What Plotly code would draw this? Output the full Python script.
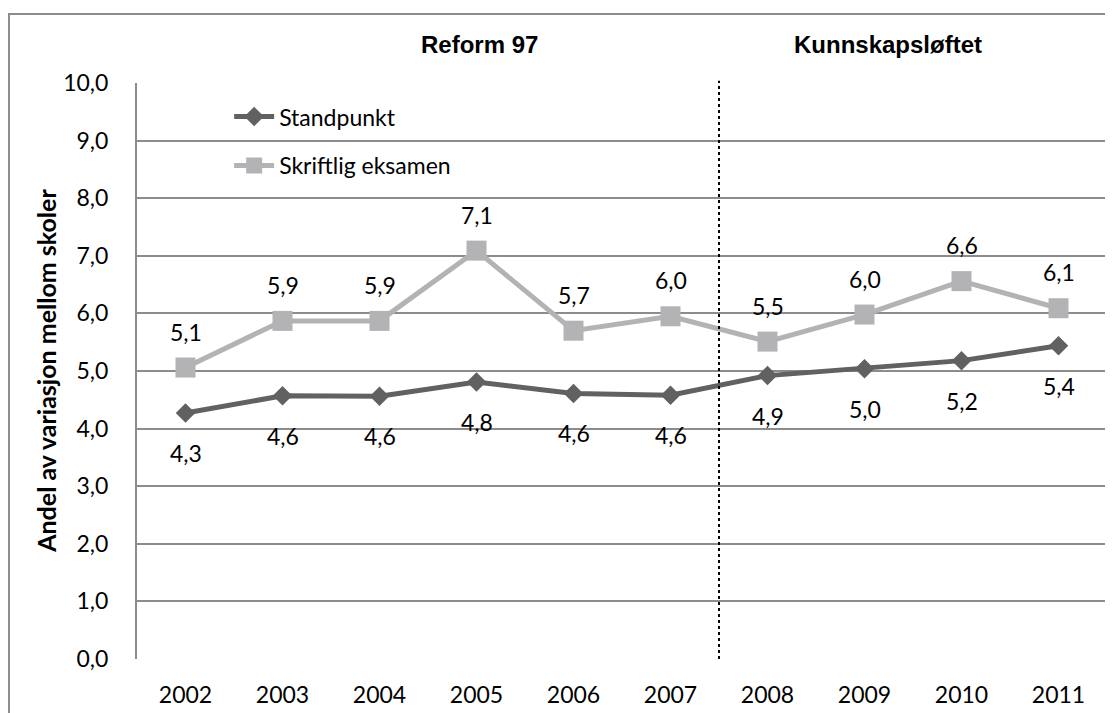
import plotly.graph_objects as go

years = ["2002", "2003", "2004", "2005", "2006", "2007", "2008", "2009", "2010", "2011"]
standpunkt = [4.27, 4.57, 4.56, 4.81, 4.61, 4.58, 4.92, 5.04, 5.18, 5.44]
skriftlig = [5.06, 5.87, 5.87, 7.09, 5.70, 5.95, 5.51, 5.98, 6.56, 6.09]
period_labels = ["Reform 97", "Kunnskapsløftet"]
y_title = "Andel av variasjon mellom skoler"

DARK = "#616161"
LIGHT = "#b3b3b5"
GRID = "#8c8c8c"
FONT = "Lato"

def fmt(v):
    return f"{v:.1f}".replace(".", ",")

fig = go.Figure()
fig.add_trace(go.Scatter(
    x=years, y=standpunkt, name="Standpunkt", mode="lines+markers",
    line=dict(color=DARK, width=5),
    marker=dict(symbol="diamond", size=15, color=DARK),
    legendgroup="a",
))
fig.add_trace(go.Scatter(
    x=years, y=skriftlig, name="Skriftlig eksamen", mode="lines+markers",
    line=dict(color=LIGHT, width=5),
    marker=dict(symbol="square", size=20, color=LIGHT),
    legendgroup="b",
))

annotations = []
for i, v in enumerate(skriftlig):
    annotations.append(dict(x=i, y=v, text=fmt(v), showarrow=False, yshift=36,
                            font=dict(family=FONT, size=23, color="black")))
for i, v in enumerate(standpunkt):
    annotations.append(dict(x=i, y=v, text=fmt(v), showarrow=False, yshift=-40,
                            font=dict(family=FONT, size=23, color="black")))

annotations.append(dict(xref="paper", yref="paper", x=0.3526, y=1.066, xanchor="center", yanchor="middle",
                        text=f"<b>{period_labels[0]}</b>", showarrow=False,
                        font=dict(family="Liberation Sans", size=24, color="black")))
annotations.append(dict(xref="paper", yref="paper", x=0.774, y=1.066, xanchor="center", yanchor="middle",
                        text=f"<b>{period_labels[1]}</b>", showarrow=False,
                        font=dict(family="Liberation Sans", size=24, color="black")))
annotations.append(dict(xref="paper", yref="paper", x=-0.094, y=0.5, xanchor="center", yanchor="middle",
                        text=f"<b>{y_title}</b>", textangle=-90, showarrow=False,
                        font=dict(family=FONT, size=25, color="black")))

shapes = [
    dict(type="line", xref="x", yref="paper", x0=5.5, x1=5.5, y0=0, y1=1.004,
         line=dict(color="black", width=2, dash="dot")),
    dict(type="rect", xref="paper", yref="paper", x0=-0.132, x1=1.3, y0=-0.3, y1=1.1198,
         line=dict(color=GRID, width=2), layer="below"),
]

fig.update_layout(
    width=1105, height=705,
    margin=dict(l=129, r=6, t=75, b=54),
    paper_bgcolor="white", plot_bgcolor="white",
    separators=", ",
    font=dict(family=FONT, size=22, color="black"),
    showlegend=True,
    legend=dict(x=0.095, y=0.979, xanchor="left", yanchor="top", bgcolor="rgba(0,0,0,0)",
                font=dict(family=FONT, size=23, color="black"), traceorder="grouped",
                tracegroupgap=16, itemwidth=40),
    annotations=annotations,
    shapes=shapes,
)
fig.update_xaxes(type="category", range=[-0.5, 9.5], showgrid=False, showline=False, zeroline=False,
                 ticks="", ticklabelstandoff=20, tickfont=dict(family=FONT, size=23))
fig.update_yaxes(range=[0, 10], dtick=1, tickformat=".1f", showgrid=True, gridcolor=GRID, gridwidth=2,
                 showline=True, linecolor=GRID, linewidth=2, zeroline=False, ticks="",
                 ticklabelstandoff=22, tickfont=dict(family=FONT, size=23))

fig.write_html("out.html")
